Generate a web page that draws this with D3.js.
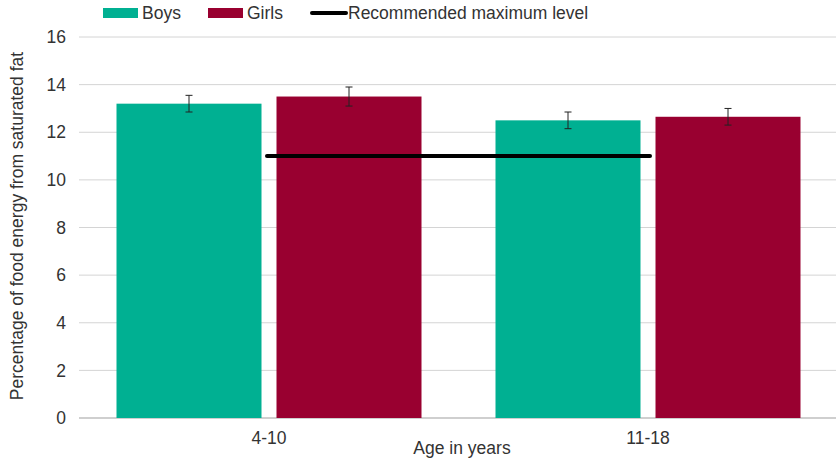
<!DOCTYPE html>
<html><head><meta charset="utf-8">
<script src="https://cdn.jsdelivr.net/npm/d3@7"></script>
<style>body{margin:0;background:#fff}svg{display:block;font-family:"Liberation Sans",Arial,sans-serif}</style>
</head><body><svg id="c" width="836" height="459"></svg>
<script>
const categories = ["4-10", "11-18"];
const seriesNames = ["Boys", "Girls"];
const boys = [13.2, 12.5];
const girls = [13.5, 12.65];
const boysErr = [0.35, 0.35];
const girlsErr = [0.4, 0.35];
const recommended = 11;
const yTicks = [0, 2, 4, 6, 8, 10, 12, 14, 16];
const colors = ["#00B092", "#990030"];

const FS = 17.5;
const svg = d3.select("#c");
const x0 = d3.scaleBand().domain(categories).range([79.5, 837.5]).paddingInner(0).paddingOuter(0);
const x1 = d3.scaleBand().domain(seriesNames).range([37, x0.bandwidth() - 37]).paddingInner(15/160).paddingOuter(0);
const y = d3.scaleLinear().domain([0, 16]).range([418, 37]);

// gridlines
svg.append("g").selectAll("line").data(yTicks).join("line")
  .attr("x1", 79).attr("x2", 836)
  .attr("y1", d => y(d)).attr("y2", d => y(d))
  .attr("stroke", d => d === 0 ? "#bfbfbf" : "#d4d4d4").attr("stroke-width", d => d === 0 ? 1.5 : 1);

// y axis labels
svg.append("g").selectAll("text").data(yTicks).join("text")
  .attr("x", 66).attr("y", d => y(d)).attr("dy", "0.35em")
  .attr("text-anchor", "end").attr("font-size", FS).attr("fill", "#333").text(d => d);

const data = [boys, girls];
const errs = [boysErr, girlsErr];
seriesNames.forEach((s, si) => {
  const g = svg.append("g");
  g.selectAll("rect").data(categories).join("rect")
    .attr("x", c => x0(c) + x1(s)).attr("width", x1.bandwidth())
    .attr("y", (c, i) => y(data[si][i])).attr("height", (c, i) => y(0) - y(data[si][i]))
    .attr("fill", colors[si]);
  categories.forEach((c, i) => {
    const cx = x0(c) + x1(s) + x1.bandwidth() / 2;
    const v = data[si][i], e = errs[si][i];
    g.append("line").attr("x1", cx).attr("x2", cx).attr("y1", y(v + e)).attr("y2", y(v - e)).attr("stroke", "#222").attr("stroke-width", 1);
    [v + e, v - e].forEach(t => g.append("line").attr("x1", cx - 3.5).attr("x2", cx + 3.5).attr("y1", y(t)).attr("y2", y(t)).attr("stroke", "#222").attr("stroke-width", 1));
  });
});

// recommended line
svg.append("line")
  .attr("x1", x0(categories[0]) + x0.bandwidth() / 2 - 2).attr("x2", x0(categories[1]) + x0.bandwidth() / 2 + 2)
  .attr("y1", y(recommended)).attr("y2", y(recommended))
  .attr("stroke", "#000").attr("stroke-width", 4).attr("stroke-linecap", "round");

// x labels
svg.append("g").selectAll("text").data(categories).join("text")
  .attr("x", c => x0(c) + x0.bandwidth() / 2).attr("y", 444)
  .attr("text-anchor", "middle").attr("font-size", FS).attr("fill", "#333").text(c => c);

svg.append("text").attr("x", 462).attr("y", 454).attr("text-anchor", "middle")
  .attr("font-size", FS).attr("fill", "#333").text("Age in years");

svg.append("text").attr("transform", "translate(23,226) rotate(-90)").attr("text-anchor", "middle")
  .attr("font-size", FS).attr("fill", "#333").text("Percentage of food energy from saturated fat");

// legend
const leg = svg.append("g");
[["Boys", 103], ["Girls", 208]].forEach(([n, lx], i) => {
  leg.append("rect").attr("x", lx).attr("y", 8).attr("width", 35).attr("height", 10).attr("fill", colors[i]);
  leg.append("text").attr("x", lx + 39).attr("y", 13).attr("dy", "0.35em").attr("font-size", FS).attr("fill", "#333").text(n);
});
leg.append("line").attr("x1", 312).attr("x2", 346).attr("y1", 13).attr("y2", 13).attr("stroke", "#000").attr("stroke-width", 4).attr("stroke-linecap", "round");
leg.append("text").attr("x", 348).attr("y", 13).attr("dy", "0.35em").attr("font-size", FS).attr("fill", "#333").text("Recommended maximum level");
</script></body></html>
